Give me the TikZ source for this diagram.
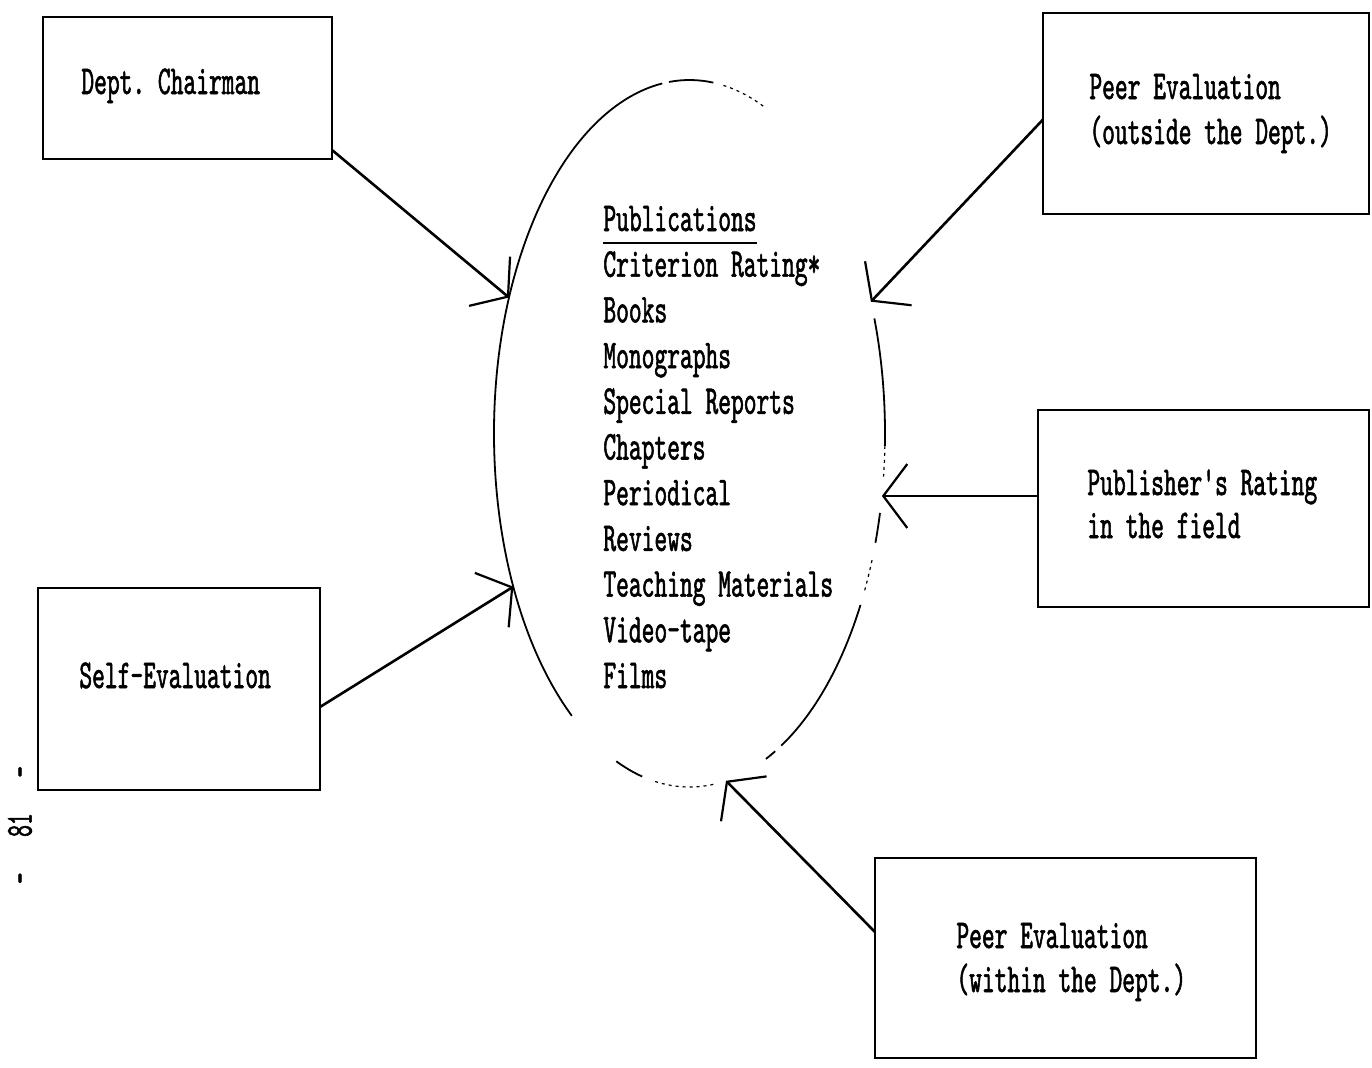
\documentclass[tikz,border=0pt]{standalone}
\usepackage{fontspec}
\usetikzlibrary{arrows.meta,shapes.geometric,fit}
% condensed slab-serif typewriter face
\newfontfamily\tw{lmmono10-regular}[Extension=.otf,FakeStretch=0.593,FakeBold=1.3]
% underline drawn a little below the baseline
\newcommand{\hdrline}[1]{\setbox0=\hbox{#1}\rlap{\rule[-6.5pt]{\wd0}{1pt}}\box0}
% one piece of the hand-drawn oval around the publication list
\newcommand{\rimpiece}[3][rim]{\draw[#1] ([shift={(#2:195.5 and 353.5)}]pub.center) arc[start angle=#2, end angle=#3, x radius=195.5, y radius=353.5];}
\begin{document}
\begin{tikzpicture}[x=0.5pt,y=-0.5pt,
  box/.style={draw, line width=1.3pt, inner sep=0pt, outer sep=0pt},
  lbl/.style={anchor=base west, inner sep=0pt, font=\tw\fontsize{20.5}{23}\selectfont\frenchspacing},
  arr/.style={line width=1.3pt, -{Straight Barb[length=12pt,width=32pt,line width=1.1pt]}},
  rim/.style={line width=0.9pt},
  faint/.style={line width=0.6pt, dash pattern=on 1.5pt off 2pt}]
\useasboundingbox (0,0) rectangle (1372,1067);

% source boxes
\node[box, fit={(43,17) (332,159)}] (dept) {};
\node[box, fit={(1043,13) (1369,214)}] (peerout) {};
\node[box, fit={(1038,410) (1369,607)}] (pubr) {};
\node[box, fit={(38,588) (320,790)}] (self) {};
\node[box, fit={(875,858) (1256,1058)}] (peerin) {};

% box labels
\node[lbl] (deptT) at (81,94) {Dept. Chairman};
\node[lbl] (peeroutA) at (1089,99) {Peer Evaluation};
\node[lbl] (peeroutB) at (1089,144) {(outside the Dept.)};
\node[lbl] (pubrA) at (1087,495) {Publisher's Rating};
\node[lbl] (pubrB) at (1087,538) {in the field};
\node[lbl] (selfT) at (79,688) {Self-Evaluation};
\node[lbl] (peerinA) at (956,948) {Peer Evaluation};
\node[lbl] (peerinB) at (956,992) {(within the Dept.)};

% the oval
\node[ellipse, draw=none, minimum width=195.5pt, minimum height=353.5pt,
      inner sep=0pt, outer sep=0pt] (pub) at (689.5,433.5) {};
\rimpiece{127}{262}
\rimpiece{264}{277}
\rimpiece[faint]{280}{293}
\rimpiece{341}{362}
\rimpiece[faint]{362}{367}
\rimpiece{373}{378}
\rimpiece[faint]{381}{387}
\rimpiece{389}{422}
\rimpiece{424}{427}
\rimpiece[faint]{443}{461}
\rimpiece{464}{472}

% publication list
\foreach \txt [count=\i] in {\hdrline{Publications}, Criterion Rating*, Books,
    Monographs, Special Reports, Chapters, Periodical, Reviews,
    Teaching Materials, Video-tape, Films}
  \node[lbl] (item\i) at (603,{231+45.7*(\i-1)}) {\txt};

% arrows into the oval
\draw[arr] ([yshift=4.5pt]dept.south east) -- (pub.143.8);
\draw[arr] ([yshift=-9pt]self.east) -- (pub.221.6);
\draw[arr] ([yshift=-3pt]peerout.west) -- (pub.36.4);
\coordinate (pubtip) at (pub.342.2);
\draw[arr] (pubr.west |- pubtip) -- (pubtip);
\draw[arr] ([yshift=13pt]peerin.west) -- (pub.276.7);

% page number in the margin
\node[rotate=90, inner sep=0pt, font=\tw\fontsize{19}{19}\selectfont] (folio) at (20,825) {-~~~81~~~-};
\end{tikzpicture}
\end{document}
